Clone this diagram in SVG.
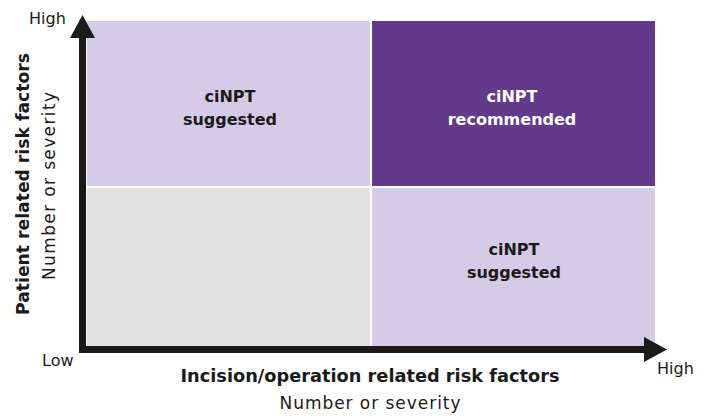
<svg xmlns="http://www.w3.org/2000/svg" width="713" height="416" viewBox="0 0 713 416">
<style>
.lt{fill:#d4cbe6}
.dk{fill:#63398b}
.gy{fill:#e2e2e2}
.q{font-family:"DejaVu Sans",Verdana,sans-serif;font-weight:bold;font-size:16px;text-anchor:middle}
.ax{font-family:"DejaVu Sans",Verdana,sans-serif;font-size:16px;fill:#1a1a1a}
.axb{font-family:"DejaVu Sans",Verdana,sans-serif;font-weight:bold;font-size:17px;fill:#1a1a1a;text-anchor:middle}
.axn{font-family:"DejaVu Sans",Verdana,sans-serif;font-size:17px;fill:#1a1a1a;text-anchor:middle}
</style>
<rect width="713" height="416" fill="#fff"/>
<g id="q-top-left"><rect class="lt" x="87" y="21" width="283" height="165"/><text class="q" fill="#1a1a1a"><tspan x="230" y="102">ciNPT</tspan><tspan x="230" y="125">suggested</tspan></text></g>
<g id="q-top-right"><rect class="dk" x="372" y="21" width="283" height="165"/><text class="q" fill="#fff"><tspan x="512" y="102">ciNPT</tspan><tspan x="512" y="125">recommended</tspan></text></g>
<g id="q-bottom-left"><rect class="gy" x="87" y="188" width="283" height="158"/></g>
<g id="q-bottom-right"><rect class="lt" x="372" y="188" width="283" height="158"/><text class="q" fill="#1a1a1a"><tspan x="514" y="255">ciNPT</tspan><tspan x="514" y="278">suggested</tspan></text></g>
<g id="axes" fill="#1a1a1a">
<rect x="79" y="34" width="7" height="319"/>
<polygon points="82.5,15 70,38 95,38"/>
<rect x="79" y="346" width="568" height="7"/>
<polygon points="667,349.5 644,337 644,362"/>
</g>
<g id="labels">
<text class="ax" x="29" y="24">High</text>
<text class="ax" x="42" y="366">Low</text>
<text class="ax" x="657" y="374">High</text>
<text class="axb" x="370" y="382" textLength="379" lengthAdjust="spacingAndGlyphs">Incision/operation related risk factors</text>
<text class="axn" x="370" y="409" textLength="181">Number or severity</text>
<text class="axb" transform="translate(29,184) rotate(-90)" textLength="262" lengthAdjust="spacingAndGlyphs">Patient related risk factors</text>
<text class="axn" transform="translate(55,186) rotate(-90)" textLength="188">Number or severity</text>
</g>
</svg>
